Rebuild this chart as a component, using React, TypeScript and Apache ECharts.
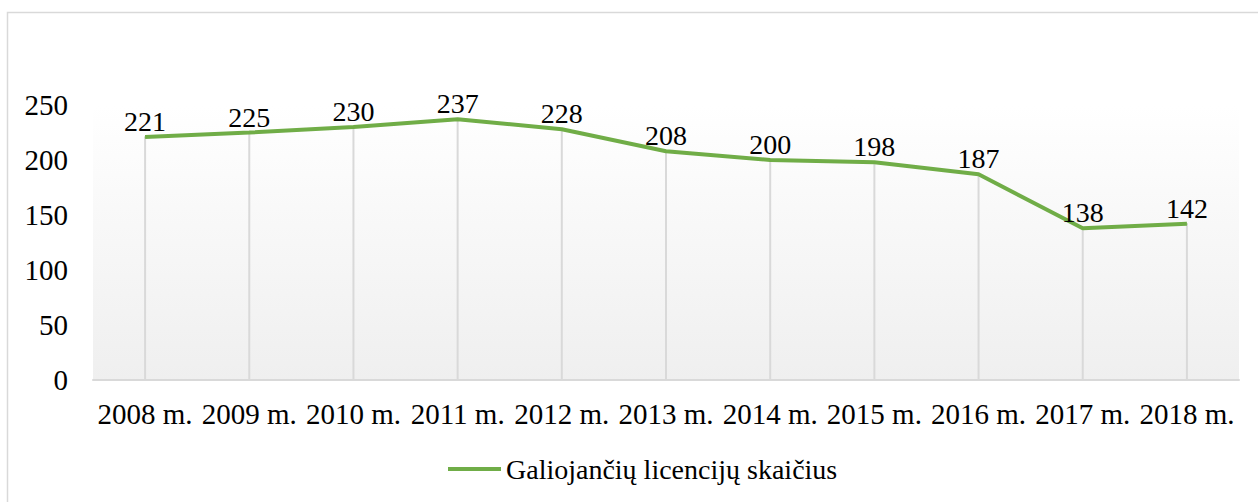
import React, { useEffect, useRef } from "react";
import * as echarts from "echarts";

const categories = ["2008 m.", "2009 m.", "2010 m.", "2011 m.", "2012 m.", "2013 m.", "2014 m.", "2015 m.", "2016 m.", "2017 m.", "2018 m."];
const values = [221, 225, 230, 237, 228, 208, 200, 198, 187, 138, 142];
const seriesName = "Galiojančių licencijų skaičius";
const yTicks = [0, 50, 100, 150, 200, 250];

const FONT = "Liberation Serif";

export default function App() {
  const ref = useRef<HTMLDivElement>(null);
  useEffect(() => {
    document.body.style.margin = "0";
    const chart = echarts.init(ref.current!, null, { renderer: "svg" });
    chart.setOption({
      animation: false,
      backgroundColor: "#ffffff",
      textStyle: { fontFamily: FONT },
      graphic: [
        {
          type: "rect",
          shape: { x: 7.5, y: 12.5, width: 1260, height: 500 },
          style: { fill: "none", stroke: "#d9d9d9", lineWidth: 1.5 },
          silent: true,
        },
      ],
      grid: {
        left: 93,
        right: 19,
        top: 105,
        bottom: 122,
        show: true,
        borderWidth: 0,
        backgroundColor: new echarts.graphic.LinearGradient(0, 0, 0, 1, [
          { offset: 0, color: "#ffffff" },
          { offset: 1, color: "#efefef" },
        ]),
      },
      legend: {
        data: [{ name: seriesName }],
        top: 450,
        left: 443,
        icon: "rect",
        itemWidth: 53,
        itemHeight: 4,
        itemGap: 5,
        textStyle: { fontFamily: FONT, fontSize: 28, color: "#000", padding: [0, 0, 0, 0] },
      },
      xAxis: {
        type: "category",
        data: categories,
        boundaryGap: true,
        axisLine: { show: true, lineStyle: { color: "#d9d9d9", width: 2 } },
        axisTick: { show: false },
        splitLine: { show: false },
        axisLabel: { fontFamily: FONT, fontSize: 29, color: "#000", margin: 19, interval: 0 },
      },
      yAxis: {
        type: "value",
        min: yTicks[0],
        max: yTicks[yTicks.length - 1],
        interval: 50,
        axisLine: { show: false },
        axisTick: { show: false },
        splitLine: { show: false },
        axisLabel: { fontFamily: FONT, fontSize: 29, color: "#000", margin: 25 },
      },
      series: [
        {
          name: "drop",
          type: "bar",
          data: values,
          barWidth: 2,
          itemStyle: { color: "#d9d9d9" },
          silent: true,
          z: 1,
        },
        {
          name: seriesName,
          type: "line",
          data: values,
          symbol: "circle",
          symbolSize: 1,
          showSymbol: true,
          lineStyle: { color: "#70ad47", width: 4 },
          itemStyle: { color: "#70ad47" },
          z: 3,
          label: {
            show: true,
            position: "top",
            distance: 1,
            fontFamily: FONT,
            fontSize: 28,
            color: "#000",
          },
        },
      ],
    });
    return () => chart.dispose();
  }, []);
  return <div ref={ref} style={{ width: 1258, height: 502 }} />;
}
